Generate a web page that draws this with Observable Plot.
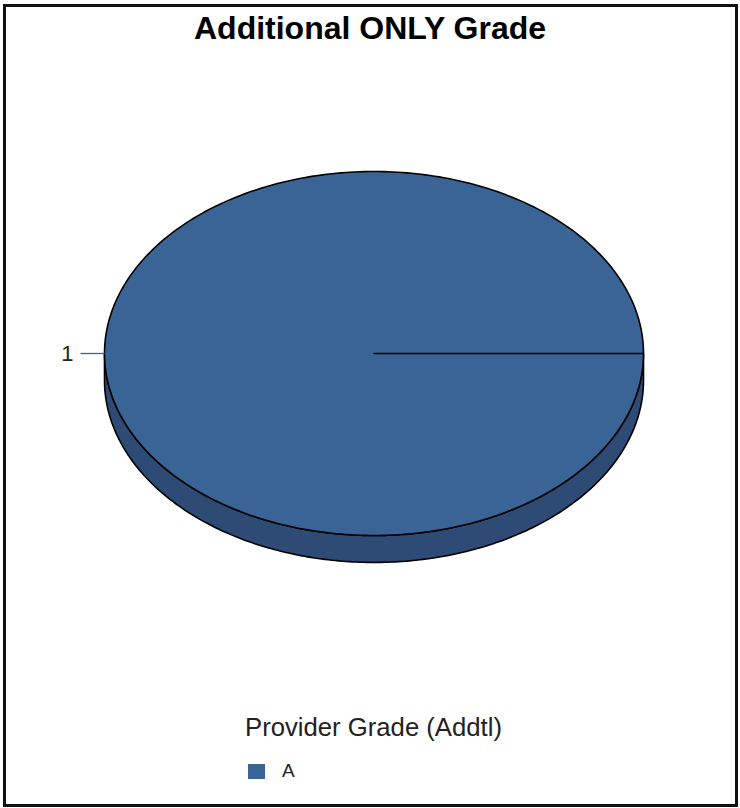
<!DOCTYPE html>
<html>
<head>
<meta charset="utf-8">
<script src="https://cdn.jsdelivr.net/npm/d3@7"></script>
<script src="https://cdn.jsdelivr.net/npm/@observablehq/plot@0.6"></script>
<style>
  html, body { margin: 0; padding: 0; background: #fff; }
  body { width: 740px; height: 808px; position: relative; overflow: hidden;
         font-family: "Liberation Sans", Arial, sans-serif; color: #000; }
  #frame { position: absolute; left: 3px; top: 4px; width: 735px; height: 803px;
           box-sizing: border-box; border: 3px solid #111; }
  #title { position: absolute; left: 0; width: 740px; top: 9px; text-align: center;
           font-weight: bold; font-size: 32px; line-height: 38px; }
  #chart { position: absolute; left: 0; top: 60px; }
  #legend-title { position: absolute; left: 245px; top: 712px; font-size: 25.7px; line-height: 30px; color: #222; }
  .legend-item { position: absolute; left: 248px; height: 20px; display: flex; align-items: center; }
  .legend-swatch { width: 17px; height: 15px; display: inline-block; }
  .legend-label { margin-left: 17px; font-size: 19px; color: #222; }
</style>
</head>
<body>
<div id="frame"></div>
<div id="title"></div>
<div id="chart"></div>
<div id="legend-title"></div>
<div id="legend"></div>
<script>
// ---- data ----
const chartTitle = "Additional ONLY Grade";
const legendTitle = "Provider Grade (Addtl)";
const grades = ["A"];
const counts = [1];

// ---- style ----
const palette = ["#3a6496"];
const sidePalette = ["#2d4b74"];
const depth = 0.148;   // visual thickness of the 3D pie (in radius units)

document.getElementById("title").textContent = chartTitle;
document.getElementById("legend-title").textContent = legendTitle;

const pie = d3.pie().sort(null).startAngle(0).endAngle(2 * Math.PI)(counts);
const slices = pie.map((p, i) => ({grade: grades[i], value: counts[i], start: p.startAngle, end: p.endAngle}));

function arcPoints(a0, a1, n) {
  const pts = [];
  for (let k = 0; k <= n; k++) {
    const a = a0 + (a1 - a0) * k / n;
    pts.push([Math.cos(a), Math.sin(a)]);
  }
  return pts;
}

// top faces
const topPts = [];
slices.forEach(s => {
  topPts.push({grade: s.grade, x: 0, y: 0});
  arcPoints(s.start, s.end, 360).forEach(([x, y]) => topPts.push({grade: s.grade, x, y}));
  topPts.push({grade: s.grade, x: 0, y: 0});
});

// front side walls (angles between PI and 2PI are facing the viewer)
const sidePts = [];
slices.forEach((s, i) => {
  const a0 = Math.max(s.start, Math.PI), a1 = Math.min(s.end, 2 * Math.PI);
  if (a1 <= a0) return;
  const arc = arcPoints(a0, a1, 240);
  arc.forEach(([x, y]) => sidePts.push({grade: s.grade, x, y}));
  arc.slice().reverse().forEach(([x, y]) => sidePts.push({grade: s.grade, x, y: y - depth}));
  sidePts.push({grade: s.grade, x: arc[0][0], y: arc[0][1]});
});

// labels at mid angle
const labels = slices.map(s => {
  const m = (s.start + s.end) / 2;
  return {grade: s.grade, value: s.value, x: Math.cos(m), y: Math.sin(m), x1: Math.cos(m) * 1.089, y1: Math.sin(m)};
});

const sideColor = d3.scaleOrdinal(grades, sidePalette);

const chart = Plot.plot({
  width: 740,
  height: 600,
  margin: 0,
  x: {domain: [-1, 1], range: [104, 643], axis: null},
  y: {domain: [-1, 1], range: [475, 111], axis: null},
  color: {domain: grades, range: palette},
  marks: [
    ...grades.map(g => Plot.line(sidePts.filter(d => d.grade === g), {
      x: "x", y: "y", fill: sideColor(g), stroke: "#000", strokeWidth: 1.6, curve: "linear"
    })),
    Plot.line(topPts, {x: "x", y: "y", z: "grade", fill: "grade", stroke: "#000", strokeWidth: 1.6, curve: "linear"}),
    Plot.link(labels, {x1: "x1", y1: "y1", x2: "x", y2: "y", stroke: "grade", strokeWidth: 1.3}),
    Plot.text(labels, {x: "x1", y: "y1", text: d => String(d.value), textAnchor: "end", dx: -7,
      fontSize: 22, fontFamily: "Liberation Sans, Arial, sans-serif", fill: "#222"})
  ]
});
document.getElementById("chart").appendChild(chart);

// legend
const color = chart.scale("color");
const legend = document.getElementById("legend");
grades.forEach((g, i) => {
  const item = document.createElement("div");
  item.className = "legend-item";
  item.style.top = (761 + i * 26) + "px";
  const sw = document.createElement("span");
  sw.className = "legend-swatch";
  sw.style.background = color.apply(g);
  const lb = document.createElement("span");
  lb.className = "legend-label";
  lb.textContent = g;
  item.appendChild(sw); item.appendChild(lb);
  legend.appendChild(item);
});
</script>
</body>
</html>
